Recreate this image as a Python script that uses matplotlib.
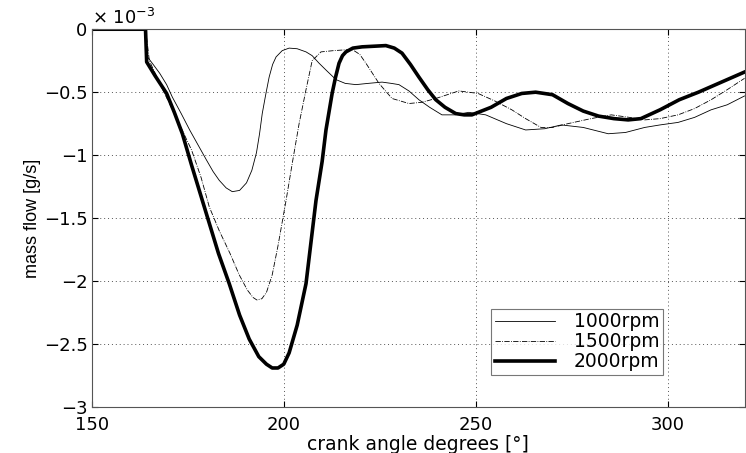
import matplotlib.pyplot as plt
from matplotlib.ticker import FuncFormatter

plt.rcParams['font.family'] = ['DejaVu Sans']

# mass flow in units of 1e-3 g/s
x_1000 = [150, 164, 164.5, 166, 167.7, 169.5, 171, 173.3, 175.5, 177.7, 179.9, 181.6, 183.2,
          185, 186.6, 188.5, 190.3, 191.7, 192.9, 193.7, 194.4, 195.3, 196.2, 197.1, 198,
          199.6, 201.4, 203.5, 205.8, 207.4, 209.2, 211.2, 213.6, 216, 218.8, 222, 225.6,
          228, 230, 232.6, 235.2, 238, 241.2, 244.5, 248.2, 252.6, 258, 263, 268, 272.3, 278,
          284.5, 289, 294, 298, 302.7, 307, 311.3, 315.5, 320]
y_1000 = [0, 0, -0.22, -0.28, -0.35, -0.44, -0.54, -0.67, -0.8, -0.92, -1.04, -1.13, -1.2,
          -1.26, -1.29, -1.28, -1.22, -1.12, -0.98, -0.83, -0.67, -0.52, -0.38, -0.28, -0.22,
          -0.17, -0.15, -0.155, -0.18, -0.21, -0.27, -0.33, -0.4, -0.43, -0.44, -0.43, -0.42,
          -0.43, -0.44, -0.49, -0.56, -0.62, -0.68, -0.68, -0.66, -0.68, -0.75, -0.8, -0.79,
          -0.76, -0.78, -0.83, -0.82, -0.78, -0.76, -0.74, -0.7, -0.64, -0.6, -0.53]

x_1500 = [150, 164, 164.5, 165, 168, 172, 176, 178.5, 180.6, 183.2, 186, 188.4, 190.5, 192,
          193, 194.3, 195.5, 197, 198.5, 200.6, 202.3, 204, 205.8, 207.4, 209.7, 213, 217.8,
          219.8, 221.4, 224.8, 228.2, 232.6, 236, 239.6, 245.6, 250.6, 255, 259.4, 263, 267,
          270, 274, 280, 285.3, 290, 294, 298, 302.7, 307, 311.3, 315.5, 320]
y_1500 = [0, 0, -0.12, -0.25, -0.45, -0.7, -0.96, -1.18, -1.41, -1.6, -1.78, -1.95, -2.07,
          -2.13, -2.15, -2.14, -2.09, -1.95, -1.72, -1.36, -1.05, -0.75, -0.48, -0.25, -0.18,
          -0.17, -0.16, -0.2, -0.27, -0.43, -0.55, -0.59, -0.58, -0.55, -0.49, -0.51, -0.57,
          -0.64, -0.71, -0.78, -0.78, -0.75, -0.71, -0.68, -0.7, -0.72, -0.71, -0.68, -0.63,
          -0.56, -0.48, -0.39]

x_2000 = [150, 164, 164.3, 166.5, 169.5, 171.5, 173.6, 176, 178.8, 181, 183, 185.8, 188.5,
          191, 193.5, 195.5, 197, 198.5, 200, 201.4, 203.5, 205.8, 208.4, 210, 211, 212.6,
          213.5, 214.4, 215.3, 216.2, 218, 220.4, 223.5, 226.6, 228.8, 230.8, 233, 235.2,
          237.5, 239.6, 242, 244.8, 247, 249, 251.5, 254, 258, 262, 265.6, 270, 274, 278,
          282, 286, 289.7, 293, 298, 303, 308, 314, 320]
y_2000 = [0, 0, -0.26, -0.37, -0.51, -0.66, -0.83, -1.08, -1.36, -1.58, -1.78, -2.02, -2.27,
          -2.46, -2.6, -2.66, -2.69, -2.69, -2.66, -2.57, -2.35, -2.02, -1.36, -1.05, -0.8,
          -0.51, -0.38, -0.27, -0.21, -0.18, -0.15, -0.14, -0.135, -0.13, -0.15, -0.19, -0.28,
          -0.38, -0.48, -0.56, -0.62, -0.67, -0.68, -0.68, -0.65, -0.62, -0.55, -0.51, -0.5,
          -0.52, -0.59, -0.65, -0.69, -0.71, -0.72, -0.71, -0.64, -0.56, -0.5, -0.42, -0.34]

fig = plt.figure(figsize=(7.46, 4.53), dpi=100)
ax = fig.add_axes([0.123, 0.1015, 0.875, 0.834])

ax.plot(x_1000, y_1000, color='black', lw=0.6, label='1000rpm')
ax.plot(x_1500, y_1500, color='black', lw=0.6, ls='-.', label='1500rpm')
ax.plot(x_2000, y_2000, color='black', lw=2.6, label='2000rpm')

ax.set_xlim(150, 320)
ax.set_ylim(-3, 0)
ax.set_xticks([150, 200, 250, 300])
ax.set_yticks([-3, -2.5, -2, -1.5, -1, -0.5, 0])
ax.yaxis.set_major_formatter(FuncFormatter(lambda v, p: ('%g' % v).replace('-', '\u2212')))
ax.grid(True, ls=(0, (1, 3)), color='#555555', lw=0.7)
ax.tick_params(direction='in', labelsize=13, top=True, right=True, length=4)
ax.tick_params(axis='x', pad=6.5)
ax.tick_params(axis='y', pad=3)
for s in ax.spines.values():
    s.set_color('#555555')
    s.set_linewidth(0.8)

ax.set_xlabel('crank angle degrees [°]', fontsize=13.5, labelpad=0.5)
ax.set_ylabel('mass flow [g/s]', fontsize=13, family='Liberation Sans', labelpad=2)
ax.text(0.0, 1.003, r'$\times$ 10$^{-3}$', transform=ax.transAxes, fontsize=13,
        ha='left', va='bottom')

leg = ax.legend(loc='lower right', bbox_to_anchor=(0.875, 0.085), fontsize=13.5,
                frameon=True, fancybox=False, edgecolor='#555555', handlelength=3.2,
                borderpad=0.2, labelspacing=0.05, borderaxespad=0, handletextpad=1.0)
leg.get_frame().set_linewidth(0.8)

fig.savefig('out.png', dpi=100)
